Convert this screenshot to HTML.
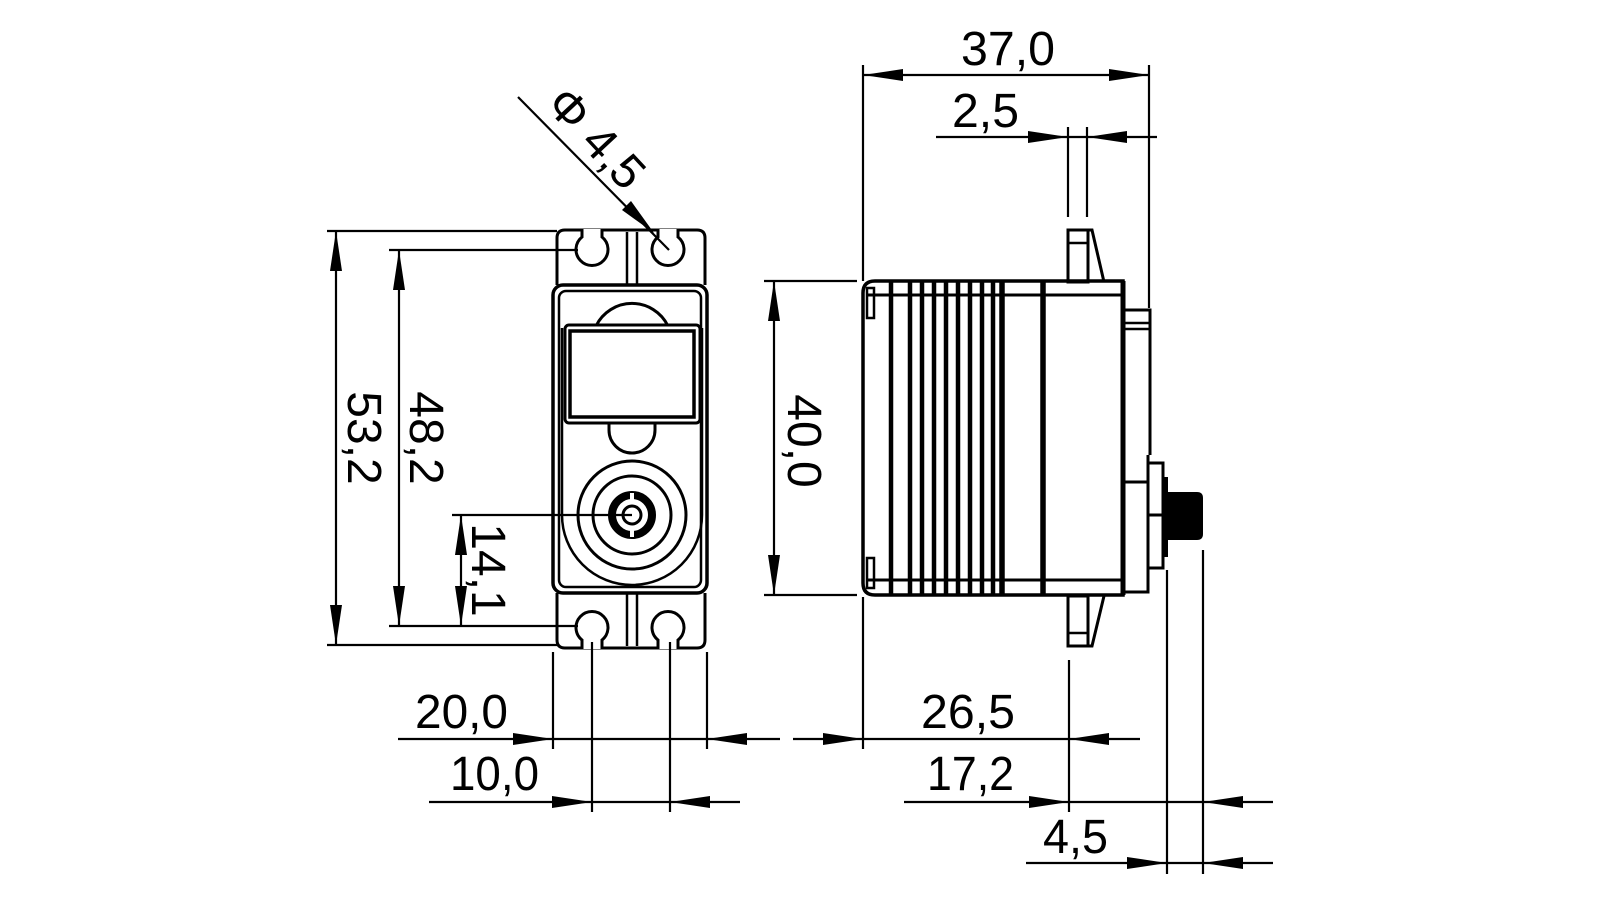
<!DOCTYPE html>
<html><head><meta charset="utf-8"><style>
html,body{margin:0;padding:0;background:#fff;}
svg{display:block;}
text{font-family:"Liberation Sans",sans-serif;font-size:48px;fill:#000;}
</style></head><body>
<svg width="1600" height="900" viewBox="0 0 1600 900" xmlns="http://www.w3.org/2000/svg">
<g fill="none" stroke="#000" stroke-width="2.5">
<!-- ===== FRONT VIEW ===== -->
<!-- top tabs -->
<path d="M557 285 V238 Q557 230 565 230 H697 Q705 230 705 238 V285" stroke-width="3"/>
<path d="M582 229 V237 A16 16 0 1 0 602 237 V229" fill="#fff" stroke-width="3"/>
<path d="M658 229 V237 A16 16 0 1 0 678 237 V229" fill="#fff" stroke-width="3"/>
<line x1="627" y1="232" x2="627" y2="285"/><line x1="637" y1="232" x2="637" y2="285"/>
<!-- bottom tabs -->
<path d="M557 593 V640 Q557 648 565 648 H697 Q705 648 705 640 V593" stroke-width="3"/>
<path d="M582 649 V640 A16 16 0 1 1 602 640 V649" fill="#fff" stroke-width="3"/>
<path d="M658 649 V640 A16 16 0 1 1 678 640 V649" fill="#fff" stroke-width="3"/>
<line x1="627" y1="593" x2="627" y2="646"/><line x1="637" y1="593" x2="637" y2="646"/>
<!-- body -->
<rect x="553" y="285" width="154" height="308" rx="10" fill="#fff" stroke-width="3.5"/>
<rect x="559" y="291" width="142" height="296" rx="7" stroke-width="2.5"/>
<path d="M562 328 V515 A70 70 0 0 0 702 515 V328" stroke-width="2.5"/>
<!-- hump -->
<path d="M596 326 A40 40 0 0 1 668 326" stroke-width="3"/>
<!-- window -->
<rect x="565" y="325" width="135" height="98" rx="4" fill="#fff" stroke-width="3"/>
<rect x="570" y="331" width="124" height="86" stroke-width="3.5"/>
<!-- notch -->
<path d="M609 423 V430 A23 23 0 0 0 655 430 V423" stroke-width="3"/>
<!-- horn -->
<circle cx="632" cy="515" r="54" stroke-width="3"/>
<circle cx="632" cy="515" r="39" stroke-width="3"/>
<circle cx="632" cy="515" r="20" stroke-width="8"/>
<circle cx="632" cy="515" r="9" stroke-width="3"/>
<line x1="632" y1="493" x2="632" y2="503" stroke="#fff" stroke-width="4"/>
<line x1="632" y1="527" x2="632" y2="537" stroke="#fff" stroke-width="4"/>

<!-- ===== SIDE VIEW ===== -->
<path d="M875 281 H1123 V595 H875 Q863 595 863 583 V293 Q863 281 875 281 Z" stroke-width="3.5"/>
<line x1="866" y1="295" x2="1123" y2="295" stroke-width="3"/>
<line x1="866" y1="580" x2="1123" y2="580" stroke-width="3"/>
<rect x="867" y="288" width="7" height="30" stroke-width="2.5"/>
<rect x="867" y="558" width="7" height="30" stroke-width="2.5"/>
<g stroke-width="4.5">
<line x1="891" y1="281" x2="891" y2="595"/><line x1="910" y1="281" x2="910" y2="595"/>
<line x1="922" y1="281" x2="922" y2="595"/><line x1="934" y1="281" x2="934" y2="595"/>
<line x1="946" y1="281" x2="946" y2="595"/><line x1="958" y1="281" x2="958" y2="595"/>
<line x1="970" y1="281" x2="970" y2="595"/><line x1="982" y1="281" x2="982" y2="595"/>
<line x1="993" y1="281" x2="993" y2="595"/><line x1="1002" y1="281" x2="1002" y2="595" stroke-width="5.5"/>
<line x1="1043" y1="281" x2="1043" y2="595" stroke-width="5.5"/>
<line x1="1123" y1="281" x2="1123" y2="595" stroke-width="5"/>
</g>
<!-- side tabs -->
<rect x="1068" y="230" width="20" height="52" stroke-width="3"/>
<line x1="1068" y1="243" x2="1088" y2="243"/>
<polyline points="1088,230 1092,230 1104,282" stroke-width="3"/>
<rect x="1068" y="596" width="20" height="50" stroke-width="3"/>
<line x1="1068" y1="633" x2="1088" y2="633"/>
<polyline points="1088,646 1092,646 1104,596" stroke-width="3"/>
<!-- right features -->
<path d="M1125 310 H1150 V455 M1148 455 V592 H1125" stroke-width="3"/>
<line x1="1125" y1="323" x2="1150" y2="323"/><line x1="1125" y1="329" x2="1150" y2="329"/>
<line x1="1125" y1="482" x2="1147" y2="482" stroke-width="3"/>
<rect x="1148" y="463" width="15" height="105" stroke-width="3"/>
<line x1="1148" y1="515" x2="1163" y2="515" stroke-width="3"/>
<rect x="1163" y="477" width="5" height="80" fill="#000" stroke="none"/>
<path d="M1168 492 H1197 Q1203 492 1203 498 V534 Q1203 540 1197 540 H1168 Z" fill="#000" stroke="none"/>

<!-- ===== DIMENSIONS ===== -->
<g stroke-width="2.2">
<!-- 53,2 / 48,2 / 14,1 -->
<line x1="327" y1="231" x2="557" y2="231"/><line x1="327" y1="645" x2="557" y2="645"/>
<line x1="336" y1="231" x2="336" y2="645"/>
<line x1="389" y1="250" x2="578" y2="250"/><line x1="389" y1="626" x2="578" y2="626"/>
<line x1="399" y1="250" x2="399" y2="626"/>
<line x1="452" y1="515" x2="632" y2="515"/><line x1="461" y1="515" x2="461" y2="626"/>
<!-- 20,0 10,0 -->
<line x1="553" y1="652" x2="553" y2="749"/><line x1="707" y1="652" x2="707" y2="749"/>
<line x1="398" y1="739" x2="780" y2="739"/>
<line x1="592" y1="642" x2="592" y2="812"/><line x1="670" y1="642" x2="670" y2="812"/>
<line x1="429" y1="802" x2="740" y2="802"/>
<!-- 40,0 -->
<line x1="764" y1="281" x2="857" y2="281"/><line x1="764" y1="595" x2="857" y2="595"/>
<line x1="774" y1="281" x2="774" y2="595"/>
<!-- 37,0 2,5 -->
<line x1="863" y1="65" x2="863" y2="281"/><line x1="1149" y1="65" x2="1149" y2="308"/>
<line x1="863" y1="75" x2="1149" y2="75"/>
<line x1="1068" y1="127" x2="1068" y2="217"/><line x1="1087" y1="127" x2="1087" y2="217"/>
<line x1="936" y1="137" x2="1157" y2="137"/>
<!-- leader -->
<line x1="518" y1="97" x2="669" y2="250"/>
<!-- 26,5 17,2 4,5 -->
<line x1="863" y1="597" x2="863" y2="749"/>
<line x1="793" y1="739" x2="1140" y2="739"/>
<line x1="1069" y1="660" x2="1069" y2="812"/>
<line x1="904" y1="802" x2="1273" y2="802"/>
<line x1="1167" y1="570" x2="1167" y2="874"/><line x1="1203" y1="550" x2="1203" y2="874"/>
<line x1="1026" y1="863" x2="1273" y2="863"/>
</g>
</g>
<!-- arrowheads -->
<g fill="#000">
<polygon points="330,271 336,231 342,271"/><polygon points="330,605 336,645 342,605"/>
<polygon points="393,290 399,250 405,290"/><polygon points="393,586 399,626 405,586"/>
<polygon points="455,555 461,515 467,555"/><polygon points="455,586 461,626 467,586"/>
<polygon points="768,321 774,281 780,321"/><polygon points="768,555 774,595 780,555"/>
<polygon points="513,733 553,739 513,745"/><polygon points="747,733 707,739 747,745"/>
<polygon points="552,796 592,802 552,808"/><polygon points="710,796 670,802 710,808"/>
<polygon points="823,733 863,739 823,745"/><polygon points="1109,733 1069,739 1109,745"/>
<polygon points="1029,796 1069,802 1029,808"/><polygon points="1243,796 1203,802 1243,808"/>
<polygon points="1127,857 1167,863 1127,869"/><polygon points="1243,857 1203,863 1243,869"/>
<polygon points="903,69 863,75 903,81"/><polygon points="1109,69 1149,75 1109,81"/>
<polygon points="1028,131 1068,137 1028,143"/><polygon points="1127,131 1087,137 1127,143"/>
<polygon points="622,210 654,233 631,201"/>
</g>
<!-- labels -->
<text x="961" y="65" textLength="94" lengthAdjust="spacingAndGlyphs">37,0</text>
<text x="952" y="127" textLength="67" lengthAdjust="spacingAndGlyphs">2,5</text>
<text x="415" y="728" textLength="93" lengthAdjust="spacingAndGlyphs">20,0</text>
<text x="450" y="790" textLength="89" lengthAdjust="spacingAndGlyphs">10,0</text>
<text x="921" y="728" textLength="94" lengthAdjust="spacingAndGlyphs">26,5</text>
<text x="927" y="790" textLength="87" lengthAdjust="spacingAndGlyphs">17,2</text>
<text x="1043" y="853" textLength="65" lengthAdjust="spacingAndGlyphs">4,5</text>
<text transform="translate(348,438) rotate(90)" text-anchor="middle">53,2</text>
<text transform="translate(410,438) rotate(90)" text-anchor="middle">48,2</text>
<text transform="translate(472,570) rotate(90)" text-anchor="middle">14,1</text>
<text transform="translate(788,441) rotate(90)" text-anchor="middle">40,0</text>
<text transform="translate(577,156) rotate(47)" text-anchor="middle" y="-10">Φ 4,5</text>
</svg>
</body></html>
